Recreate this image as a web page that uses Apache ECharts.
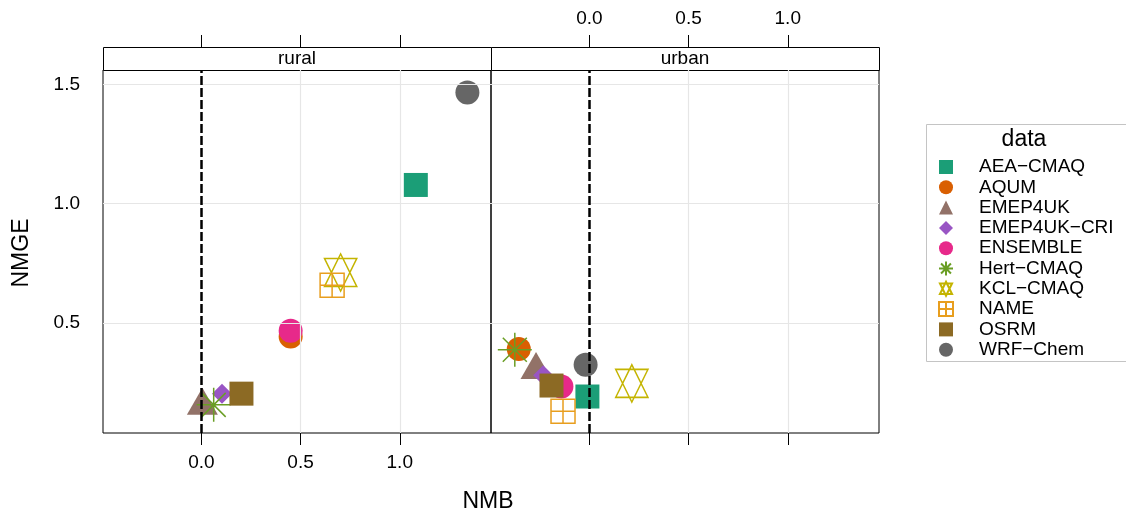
<!DOCTYPE html>
<html>
<head>
<meta charset="utf-8">
<title>NMB vs NMGE</title>
<script src="https://cdn.jsdelivr.net/npm/echarts@6/dist/echarts.min.js"></script>
<style>
  html, body { margin: 0; padding: 0; background: #fff; }
  #chart { width: 1126px; height: 517px; }
</style>
</head>
<body>
<div id="chart"></div>
<script>
// Model names (one group per model)
const models = ['AEA\u2212CMAQ', 'AQUM', 'EMEP4UK', 'EMEP4UK\u2212CRI', 'ENSEMBLE',
                'Hert\u2212CMAQ', 'KCL\u2212CMAQ', 'NAME', 'OSRM', 'WRF\u2212Chem'];
// Panel (site type) names
const panels = ['rural', 'urban'];

// Normalised mean bias per model
const ruralNMB  = [1.081, 0.450, 0.005, 0.104, 0.450, 0.062, 0.702, 0.659, 0.202, 1.341];
const urbanNMB  = [-0.010, -0.356, -0.269, -0.233, -0.141, -0.376, 0.214, -0.133, -0.191, -0.019];
// Normalised mean gross error per model
const ruralNMGE = [1.078, 0.443, 0.152, 0.203, 0.467, 0.156, 0.711, 0.658, 0.203, 1.466];
const urbanNMGE = [0.191, 0.390, 0.302, 0.280, 0.233, 0.387, 0.246, 0.129, 0.237, 0.324];

// Tick values
const xTicks = [0, 0.5, 1.0];
const yTicks = [0.5, 1.0, 1.5];

const FONT = "'Liberation Sans', Arial, Helvetica, sans-serif";

// Marker look for each model, in the same order as `models`
const markStyles = [
  { color: '#1B9E77', symbol: 'rect', size: 24 },
  { color: '#D95F02', symbol: 'circle', size: 24 },
  { color: '#927268', symbol: 'triangle', size: [31, 27], offset: [0, -4.5] },
  { color: '#9955C4', symbol: 'diamond', size: 20 },
  { color: '#E7298A', symbol: 'circle', size: 24 },
  { color: '#6A9E24', stroke: true, size: 34,
    symbol: 'path://M0,-17L0,17M-17,0L17,0M-12,-12L12,12M-12,12L12,-12' },
  { color: '#C4B400', stroke: true, size: [32.3, 37.3],
    symbol: 'path://M0,-18.66L16.16,14L-16.16,14ZM0,18.66L16.16,-14L-16.16,-14Z' },
  { color: '#E89E1E', stroke: true, size: 24,
    symbol: 'path://M-12,-12L12,-12L12,12L-12,12ZM0,-12L0,12M-12,0L12,0' },
  { color: '#8C6A24', symbol: 'rect', size: 24 },
  { color: '#666666', symbol: 'circle', size: 24 }
];

const X_MIN = -0.496, X_MAX = 1.46;
const Y_MIN = 0.038, Y_MAX = 1.56;

const chart = echarts.init(document.getElementById('chart'), null, { renderer: 'canvas' });

const fmt = v => Number(v).toFixed(1);

const grids = [
  { left: 103, top: 70, width: 388, height: 363 },
  { left: 491, top: 70, width: 388, height: 363 }
].map(g => Object.assign(g, {
  show: true, borderColor: '#000', borderWidth: 1,
  backgroundColor: 'transparent', containLabel: false, outerBoundsMode: 'none'
}));

function xAxisFor(gridIndex, position, withLabels) {
  return {
    type: 'value', gridIndex, position,
    offset: position === 'top' ? 23 : 0,
    min: X_MIN, max: X_MAX,
    axisLine: { show: false },
    axisTick: { show: true, inside: false, length: 12, customValues: xTicks,
                lineStyle: { color: '#000', width: 1 } },
    axisLabel: { show: withLabels, customValues: xTicks, formatter: fmt,
                 margin: position === 'top' ? 19 : 20,
                 fontSize: 19, color: '#000', fontFamily: FONT },
    splitLine: { show: false }
  };
}

function yAxisFor(gridIndex, position, withLabels) {
  return {
    type: 'value', gridIndex, position,
    min: Y_MIN, max: Y_MAX,
    axisLine: { show: false },
    axisTick: { show: true, inside: false, length: 12, customValues: yTicks,
                lineStyle: { color: '#000', width: 1 } },
    axisLabel: { show: withLabels, customValues: yTicks, formatter: fmt,
                 margin: 23, fontSize: 19, color: '#000', fontFamily: FONT },
    splitLine: { show: false }
  };
}

// x axes: 0 bottom rural, 1 bottom urban, 2 top rural, 3 top urban
const xAxes = [
  xAxisFor(0, 'bottom', true),
  xAxisFor(1, 'bottom', false),
  xAxisFor(0, 'top', false),
  xAxisFor(1, 'top', true)
];
const yAxes = [
  yAxisFor(0, 'left', true),
  yAxisFor(1, 'right', false)
];

const panelData = [
  { nmb: ruralNMB, nmge: ruralNMGE },
  { nmb: urbanNMB, nmge: urbanNMGE }
];

const series = [];

// light reference grid beneath the points
panelData.forEach((_, p) => {
  series.push({
    type: 'scatter', name: 'grid-' + p, xAxisIndex: p, yAxisIndex: p,
    data: [], z: 1, silent: true,
    markLine: {
      silent: true, symbol: 'none', label: { show: false }, animation: false,
      lineStyle: { color: '#E6E6E6', width: 1.2, type: 'solid' },
      data: xTicks.filter(v => v !== 0).map(v => ({ xAxis: v }))
              .concat(yTicks.map(v => ({ yAxis: v })))
    }
  });
});

// one scatter series per model and panel
panelData.forEach((pd, p) => {
  models.forEach((name, i) => {
    const st = markStyles[i];
    series.push({
      type: 'scatter', name, xAxisIndex: p, yAxisIndex: p, z: 2,
      symbol: st.symbol, symbolSize: st.size,
      symbolOffset: st.offset || [0, 0],
      itemStyle: st.stroke
        ? { color: 'rgba(0,0,0,0)', borderColor: st.color, borderWidth: 1.5, opacity: 1 }
        : { color: st.color, borderWidth: 0, opacity: 1 },
      emphasis: { disabled: true },
      data: [[pd.nmb[i], pd.nmge[i]]]
    });
  });
});

// dashed zero-bias line drawn over the points
panelData.forEach((_, p) => {
  series.push({
    type: 'scatter', name: 'zero-' + p, xAxisIndex: p, yAxisIndex: p,
    data: [], z: 3, silent: true,
    markLine: {
      silent: true, symbol: 'none', label: { show: false }, animation: false,
      lineStyle: { color: '#000', width: 2.5, type: [9, 3] },
      data: [{ xAxis: 0 }]
    }
  });
});

const stripGraphics = [];
panels.forEach((label, p) => {
  const g = grids[p];
  stripGraphics.push({
    type: 'rect', left: g.left, top: 47, silent: true,
    shape: { x: 0, y: 0, width: g.width, height: 23 },
    style: { fill: '#fff', stroke: '#000', lineWidth: 1 }
  });
  stripGraphics.push({
    type: 'text', x: g.left + g.width / 2, y: 58.5, silent: true,
    style: { text: label, fill: '#000', font: '19px ' + FONT,
             textAlign: 'center', textVerticalAlign: 'middle' }
  });
});

chart.setOption({
  animation: false,
  backgroundColor: '#fff',
  textStyle: { fontFamily: FONT },
  grid: grids,
  xAxis: xAxes,
  yAxis: yAxes,
  legend: {
    data: models,
    orient: 'vertical',
    left: 938, top: 157.5,
    itemWidth: 14, itemHeight: 14, itemGap: 1.3,
    padding: 0,
    selectedMode: false,
    textStyle: { fontSize: 19, color: '#000', fontFamily: FONT,
                 padding: [0, 0, 0, 21] }
  },
  graphic: stripGraphics.concat([
    {
      type: 'rect', left: 924, top: 122, silent: true,
      shape: { x: 0, y: 0, width: 201, height: 237 },
      style: { fill: 'none', stroke: '#C4C4C4', lineWidth: 1 }
    },
    {
      type: 'text', x: 1024, y: 140, silent: true,
      style: { text: 'data', fill: '#000', font: '23px ' + FONT,
               textAlign: 'center', textVerticalAlign: 'middle' }
    },
    {
      type: 'text', x: 488, y: 502, silent: true,
      style: { text: 'NMB', fill: '#000', font: '23px ' + FONT,
               textAlign: 'center', textVerticalAlign: 'middle' }
    },
    {
      type: 'text', x: 22, y: 253, rotation: Math.PI / 2, silent: true,
      style: { text: 'NMGE', fill: '#000', font: '23px ' + FONT,
               textAlign: 'center', textVerticalAlign: 'middle' }
    }
  ]),
  series
});
</script>
</body>
</html>
